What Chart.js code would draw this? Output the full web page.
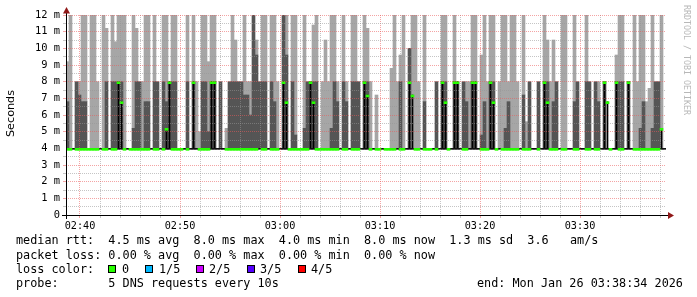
<!DOCTYPE html>
<html>
<head>
<meta charset="utf-8">
<script src="https://cdn.jsdelivr.net/npm/chart.js@4.4.1/dist/chart.umd.min.js"></script>
<style>
  html, body { margin: 0; padding: 0; background: #fff; }
  canvas { display: block; }
</style>
</head>
<body>
<canvas id="smoke" width="697" height="297"></canvas>
<script>
// 200 columns, 18 s each, 02:38:36 .. 03:38:36 (ms)
const darkTop = [
  6.8, 4, 4, 8, 7.2, 6.8, 6.8, 4, 4, 4,
  4, 4, 4, 8, 4, 8, 8, 8, 8, 4,
  4, 4, 5.2, 8, 8, 4, 6.8, 6.8, 4, 8,
  8, 4, 8, 6.8, 8, 8, 8, 4, 4, 4,
  8, 4, 8, 4, 4, 8, 8, 5, 8, 8,
  4, 8, 4, 4, 8, 8, 8, 8, 8, 7.2,
  7.2, 6, 12, 9.6, 8, 8, 8, 4, 8, 6.8,
  4, 4, 12, 9.6, 4, 8, 4.8, 4, 4, 5.2,
  8, 8, 8, 8, 4, 4, 4, 4, 5.2, 8,
  6.8, 4, 8, 6.8, 4, 8, 8, 8, 4, 8,
  8, 4, 4, 4, 4, 4, 4, 4, 4, 4,
  4, 8, 4, 4, 10, 4, 4, 4, 4, 6.8,
  4, 4, 4, 8, 4, 8, 8, 4, 4, 8,
  8, 4, 8, 6.8, 4, 8, 8, 4, 4.8, 6.8,
  4, 8, 8, 4, 4, 4, 5.2, 6.8, 4, 4,
  4, 4, 7.2, 4, 8, 4, 4, 8, 4, 8,
  8, 4, 6.8, 8, 4, 4, 4, 4, 4, 6.8,
  8, 4, 4, 8, 8, 4, 8, 6.8, 4, 8,
  4, 4, 4, 8, 8, 8, 4, 8, 4, 4,
  4, 5.2, 6.8, 4, 4, 5.2, 8, 8, 4, 4
];
const lightTop = [
  9.2, 12, 4, 8, 8, 12, 12, 4, 12, 12,
  8, 4, 12, 11.2, 4, 12, 10.4, 12, 12, 12,
  4, 4, 12, 11.2, 8, 8, 12, 12, 4, 12,
  8, 4, 12, 12, 8, 12, 12, 4, 4, 4,
  12, 4, 12, 8, 5, 12, 12, 9.2, 12, 12,
  4, 8, 4, 5.2, 8, 12, 10.5, 8, 8, 12,
  8, 8, 12, 10.5, 8, 12, 12, 4, 12, 12,
  8, 4, 12, 12, 4, 12, 12, 4, 4, 12,
  8, 8, 11.4, 12, 4, 8, 10.5, 8, 12, 12,
  8, 4, 12, 8, 4, 12, 12, 8, 4, 12,
  11.2, 8, 4, 7.2, 4, 4, 4, 4, 8.8, 12,
  8, 9.6, 12, 4, 10, 12, 12, 8, 4, 12,
  4, 4, 4, 8, 4, 12, 12, 4, 4, 12,
  8, 4, 8, 8, 8, 12, 12, 4, 9.6, 12,
  8, 12, 12, 4, 8, 12, 12, 8, 12, 12,
  8, 4, 12, 5.6, 8, 4, 4, 8, 4, 12,
  10.5, 8, 10.5, 8, 4, 12, 12, 4, 4, 12,
  8, 4, 4, 12, 8, 4, 8, 8, 4, 8,
  4, 4, 4, 9.6, 12, 12, 4, 8, 4, 12,
  8, 12, 12, 6.8, 7.6, 12, 8, 8, 12, 4
];
const medianRtt = [
  4, 4, null, 4, 4, 4, 4, 4, 4, 4,
  4, null, 4, 4, null, 4, 4, 8, 6.8, 4,
  null, 4, 4, 4, 4, 4, 4, 4, null, 4,
  4, null, 4, 5.2, 8, 4, 4, 4, 4, null,
  4, null, 8, null, 4, 4, 4, 4, 8, 8,
  null, null, null, 4, 4, 4, 4, 4, 4, 4,
  4, 4, 4, 4, null, 4, 4, null, 4, 4,
  4, null, 8, 6.8, 4, 4, 4, 4, 4, 4,
  4, 8, 6.8, 4, 4, 4, 4, 4, 4, 4,
  4, null, 4, 4, null, 4, 4, 4, null, 8,
  7.2, 4, null, 4, 4, null, 4, 4, 4, 4,
  null, 4, 4, null, 8, 7.2, 4, 4, null, 4,
  4, 4, null, 4, null, 8, 6.8, 4, null, 8,
  8, null, 4, 4, null, 8, 8, null, 4, 4,
  4, 8, 6.8, 4, null, 4, 4, 4, 4, 4,
  4, null, 4, 4, 4, null, null, 4, null, 8,
  6.8, 4, 4, 4, null, 4, 4, null, null, 4,
  4, null, null, 4, 4, null, 4, 4, null, 8,
  6.8, 4, null, 8, 4, 4, null, 8, null, 4,
  4, 4, 4, 4, 4, 4, 4, 4, 5.2, null
];
const minRtt = 4.0;

const yMax = 12;
const timeStart = 38.6;   // minutes after 02:00
const timeEnd = 98.6;
const timeLabels = ['02:40', '02:50', '03:00', '03:10', '03:20', '03:30'];

const statLine = 'median rtt:  4.5 ms avg  8.0 ms max  4.0 ms min  8.0 ms now  1.3 ms sd  3.6   am/s';
const lossLine = 'packet loss: 0.00 % avg  0.00 % max  0.00 % min  0.00 % now';
const lossTitle = 'loss color:';
const lossLabels = ['0', '1/5', '2/5', '3/5', '4/5'];
const lossColors = ['#26ff00', '#00b8ff', '#cc00ff', '#5500ff', '#ff0000'];
const probeLine = 'probe:       5 DNS requests every 10s';
const endLine = 'end: Mon Jan 26 03:38:34 2026';

const MONO = "'DejaVu Sans Mono', monospace";
const MAJOR = 'rgba(235, 90, 90, 0.55)';
const MINOR = 'rgba(150, 150, 150, 0.55)';

const columns = darkTop.map((_, i) => i);
const halfSteps = [];
for (let v = 0; v <= yMax * 2; v++) halfSteps.push(v / 2);
const minuteTicks = [];
for (let m = 40; m <= timeEnd; m += 2) minuteTicks.push(m);

// axes, arrows and text under the graph
const rrdDecor = {
    id: 'rrdDecor',
    afterDraw(chart) {
        const ctx = chart.ctx;
        const a = chart.chartArea;
        const ax = Math.round(a.left) + 0.5;
        const ay = Math.round(a.bottom) + 0.5;
        ctx.save();
        ctx.strokeStyle = '#000';
        ctx.lineWidth = 1;
        ctx.beginPath();
        ctx.moveTo(ax, a.bottom + 4);
        ctx.lineTo(ax, a.top - 2);
        ctx.moveTo(a.left - 4, ay);
        ctx.lineTo(a.right + 4, ay);
        ctx.stroke();

        ctx.fillStyle = '#901818';
        ctx.beginPath();
        ctx.moveTo(ax - 3.5, a.top - 1.5);
        ctx.lineTo(ax + 3.5, a.top - 1.5);
        ctx.lineTo(ax, a.top - 8);
        ctx.fill();
        ctx.beginPath();
        ctx.moveTo(a.right + 2, ay - 3.5);
        ctx.lineTo(a.right + 2, ay + 3.5);
        ctx.lineTo(a.right + 8, ay);
        ctx.fill();

        // vertical title
        ctx.fillStyle = '#000';
        ctx.font = "11.2px 'DejaVu Sans'";
        ctx.textAlign = 'center';
        ctx.textBaseline = 'middle';
        ctx.save();
        ctx.translate(11, (a.top + a.bottom) / 2 - 1.5);
        ctx.rotate(-Math.PI / 2);
        ctx.fillText('Seconds', 0, 0);
        ctx.restore();

        ctx.save();
        ctx.fillStyle = '#b8b8b8';
        ctx.font = '8.3px ' + MONO;
        ctx.translate(686, 60);
        ctx.rotate(Math.PI / 2);
        ctx.fillText('RRDTOOL / TOBI OETIKER', 0, 0);
        ctx.restore();

        // legend block
        ctx.font = '11.8px ' + MONO;
        ctx.textAlign = 'left';
        ctx.fillStyle = '#000';
        ctx.fillText(statLine, 16, 241);
        ctx.fillText(lossLine, 16, 255.5);
        ctx.fillText(lossTitle, 16, 269.5);
        const boxX = [108, 145, 196, 247, 298];
        const textX = [122, 159, 209, 260, 311];
        lossLabels.forEach((lab, i) => {
            ctx.fillStyle = lossColors[i];
            ctx.fillRect(boxX[i], 265, 8, 8);
            ctx.strokeStyle = '#000';
            ctx.strokeRect(boxX[i] + 0.5, 265.5, 7, 7);
            ctx.fillStyle = '#000';
            ctx.fillText(lab, textX[i], 269.5);
        });
        ctx.fillText(probeLine, 16, 283.5);
        ctx.fillText(endLine, 477, 283.5);
        ctx.restore();
    }
};

const barBase = {
    type: 'bar',
    xAxisID: 'x',
    yAxisID: 'y',
    categoryPercentage: 1,
    barPercentage: 1,
    borderWidth: 0
};

new Chart(document.getElementById('smoke'), {
    type: 'bar',
    data: {
        labels: columns,
        datasets: [
            Object.assign({}, barBase, {
                label: 'median',
                order: 1,
                data: medianRtt.map(m => m === null ? null : [m - 0.12, m]),
                backgroundColor: '#26ff00'
            }),
            Object.assign({}, barBase, {
                label: 'floor',
                order: 2,
                data: medianRtt.map(() => [minRtt - 0.06, minRtt]),
                backgroundColor: '#111'
            }),
            Object.assign({}, barBase, {
                label: 'median step',
                order: 3,
                barThickness: 1,
                data: medianRtt.map(m => (m !== null && m > minRtt) ? [minRtt, m] : null),
                backgroundColor: '#000'
            }),
            Object.assign({}, barBase, {
                label: 'smoke dark',
                order: 4,
                data: darkTop.map(d => d > minRtt ? [minRtt, d] : null),
                backgroundColor: '#555555'
            }),
            Object.assign({}, barBase, {
                label: 'smoke light',
                order: 5,
                data: lightTop.map((l, i) => l > darkTop[i] ? [darkTop[i], l] : null),
                backgroundColor: '#a6a6a6'
            })
        ]
    },
    options: {
        responsive: false,
        animation: false,
        devicePixelRatio: 1,
        layout: { padding: { left: 0, right: 31, top: 15, bottom: 62 } },
        plugins: {
            legend: { display: false },
            tooltip: { enabled: false }
        },
        scales: {
            x: {
                type: 'category',
                display: false,
                stacked: true,
                offset: true
            },
            xt: {
                type: 'linear',
                axis: 'x',
                position: 'bottom',
                offset: false,
                min: timeStart,
                max: timeEnd,
                afterFit: s => { s.height = 20; },
                afterBuildTicks: s => { s.ticks = minuteTicks.map(v => ({ value: v })); },
                ticks: {
                    autoSkip: false,
                    maxRotation: 0,
                    padding: 2,
                    color: '#000',
                    font: { family: MONO, size: 10.2 },
                    callback: v => v % 10 === 0 ? timeLabels[(v - 40) / 10] : ''
                },
                grid: {
                    z: 1,
                    offset: false,
                    tickLength: 3,
                    color: c => (c.tick && c.tick.value % 10 === 0) ? MAJOR : MINOR
                },
                border: { display: false, dash: [1, 1] }
            },
            y: {
                type: 'linear',
                min: 0,
                max: yMax,
                afterFit: s => { s.width = 66; },
                afterBuildTicks: s => { s.ticks = halfSteps.map(v => ({ value: v })); },
                ticks: {
                    autoSkip: false,
                    padding: 3,
                    color: '#000',
                    font: { family: MONO, size: 10.4 },
                    callback: v => Number.isInteger(v) ? (v === 0 ? '0' : v + ' m') : ''
                },
                grid: {
                    z: 1,
                    tickLength: 3,
                    color: c => {
                        if (!c.tick) return MINOR;
                        if (c.tick.value === minRtt) return 'rgba(0,0,0,0)';
                        return Number.isInteger(c.tick.value) ? MAJOR : MINOR;
                    }
                },
                border: { display: false, dash: [1, 1] }
            }
        }
    },
    plugins: [rrdDecor]
});
</script>
</body>
</html>
